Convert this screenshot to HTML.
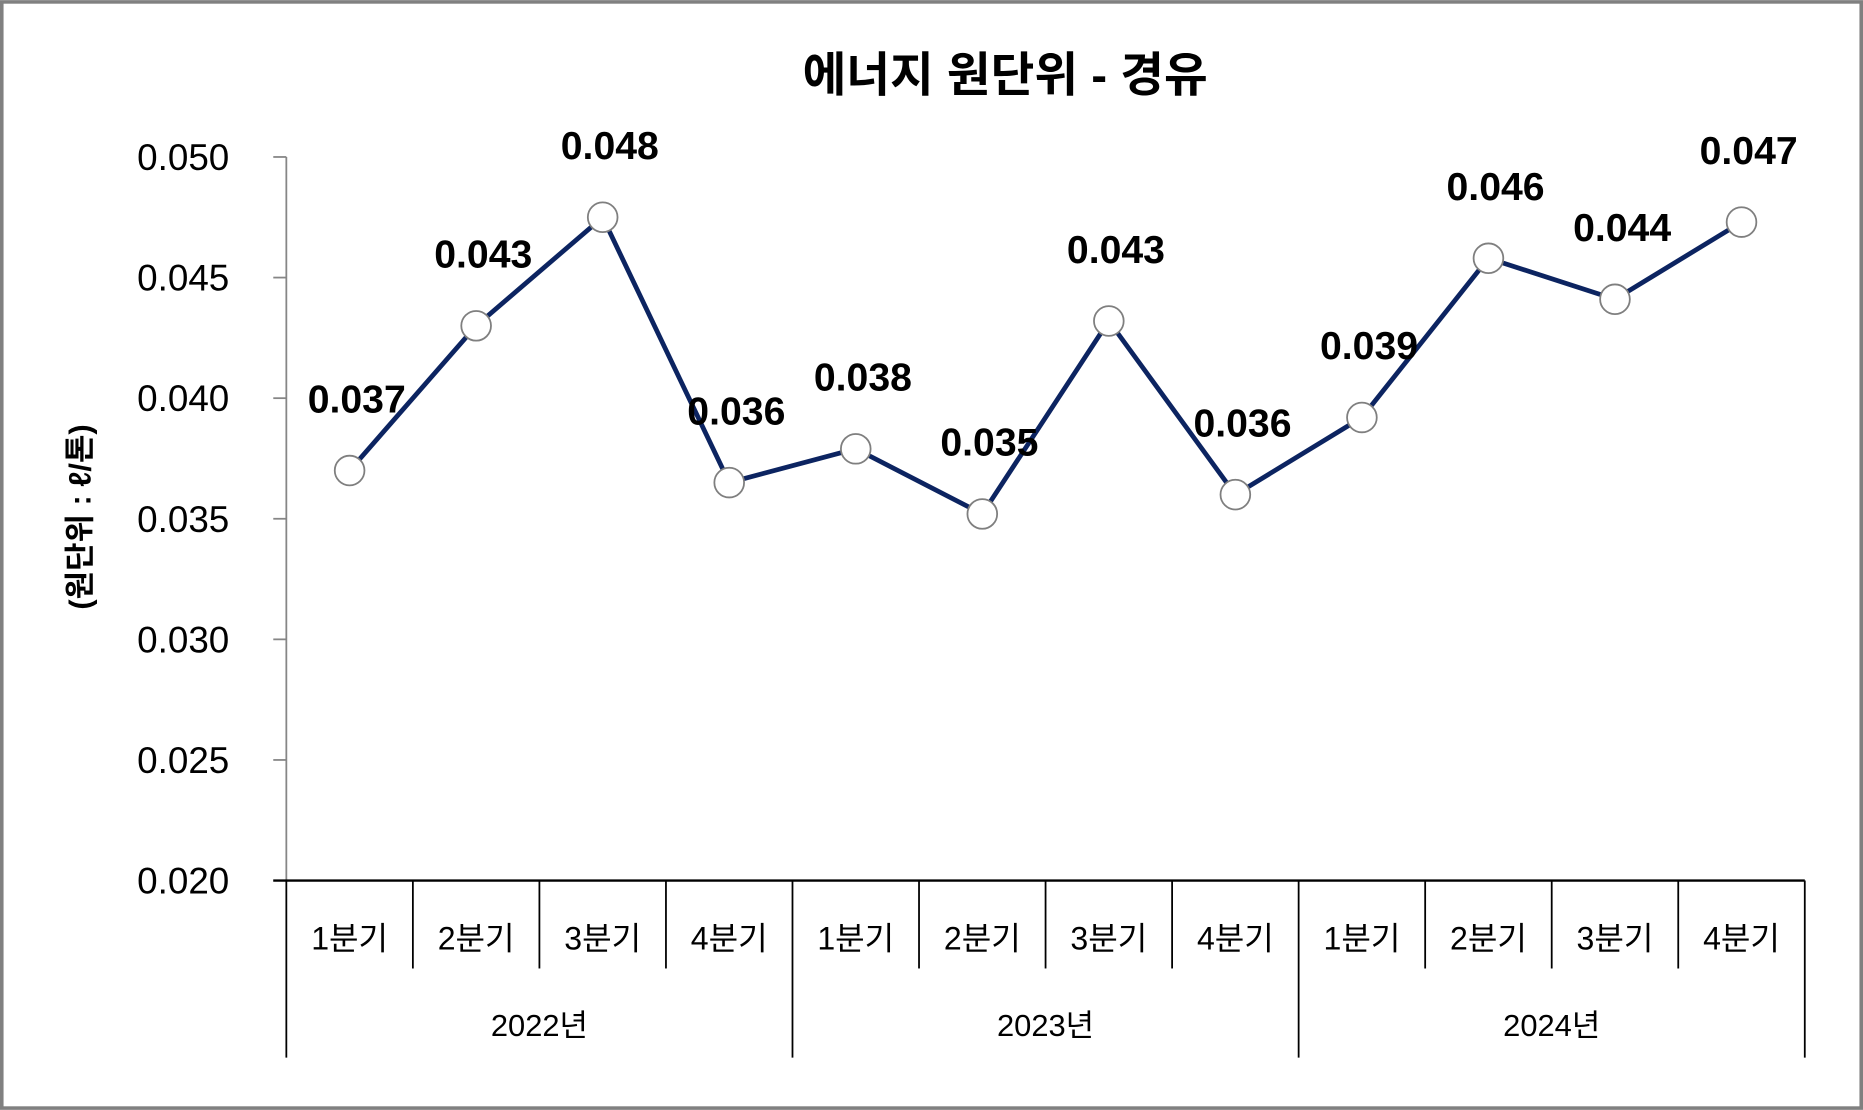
<!DOCTYPE html>
<html><head><meta charset="utf-8"><style>
html,body{margin:0;padding:0;background:#fff;width:1863px;height:1110px;overflow:hidden}
svg{display:block}
text{font-family:"Liberation Sans","Noto Sans CJK KR","NanumGothic",sans-serif;fill:#000}
</style></head><body>
<svg id="chart" width="1863" height="1110" viewBox="0 0 1568 934" xmlns="http://www.w3.org/2000/svg">
<rect x="1.5" y="1.5" width="1565" height="931" fill="#fff" stroke="#808080" stroke-width="3"/>
<text x="846" y="77" text-anchor="middle" font-size="40" font-weight="bold">에너지 원단위 - 경유</text>
<text transform="translate(76,435) rotate(-90)" text-anchor="middle" font-size="26" font-weight="bold">(원단위 : ℓ/톤)</text>
<g id="axes"></g>
<g id="series"></g>
</svg>
<script>
const categories=["1분기","2분기","3분기","4분기","1분기","2분기","3분기","4분기","1분기","2분기","3분기","4분기"];
const years=["2022년","2023년","2024년"];
const values=[0.0370,0.0430,0.0475,0.0365,0.0379,0.0352,0.0432,0.0360,0.0392,0.0458,0.0441,0.0473];
const valueLabels=["0.037","0.043","0.048","0.036","0.038","0.035","0.043","0.036","0.039","0.046","0.044","0.047"];
const yTicks=[0.020,0.025,0.030,0.035,0.040,0.045,0.050];
const yTickLabels=["0.020","0.025","0.030","0.035","0.040","0.045","0.050"];

const NS="http://www.w3.org/2000/svg";
const X0=241,X1=1519,Y0=741,Y1=132,YMIN=0.020,YMAX=0.050;
const bw=(X1-X0)/categories.length;
function xs(i){return X0+bw*(i+0.5);}
function ys(v){return Y0-(v-YMIN)/(YMAX-YMIN)*(Y0-Y1);}
function mk(tag,attrs,parent,txt){const e=document.createElementNS(NS,tag);for(const k in attrs)e.setAttribute(k,attrs[k]);if(txt!==undefined)e.textContent=txt;parent.appendChild(e);return e;}
const axes=document.getElementById('axes'),ser=document.getElementById('series');

let e=mk('line',{x1:X0,y1:Y1,x2:X0,y2:Y0,stroke:'#868686','stroke-width':1.5},axes);


yTicks.forEach((t,i)=>{
  const y=ys(t);
  let l=mk('line',{x1:230,y1:y,x2:X0,y2:y,stroke:'#868686','stroke-width':1.5},axes);
  
  
  let tx=mk('text',{x:193,y:y+11,'text-anchor':'end','font-size':31},axes,yTickLabels[i]);
  
  
});
e=mk('line',{x1:230,y1:Y0,x2:X1,y2:Y0,stroke:'#000','stroke-width':2},axes);


for(let i=0;i<=categories.length;i++){
  const x=X0+bw*i, major=(i%4===0);
  let l=mk('line',{x1:x,y1:Y0,x2:x,y2:major?890:815,stroke:'#000','stroke-width':1.5},axes);
  
  
}
categories.forEach((c,i)=>{
  let t=mk('text',{x:xs(i),y:799,'text-anchor':'middle','font-size':27},axes,c);
  
  
});
years.forEach((yv,i)=>{
  let t=mk('text',{x:X0+bw*(4*i+2),y:872,'text-anchor':'middle','font-size':26},axes,yv);
  
  
});
let pts=values.map((v,i)=>xs(i)+','+ys(v)).join(' ');
let pl=mk('polyline',{points:pts,fill:'none',stroke:'#0c2461','stroke-width':4,'stroke-linejoin':'round'},ser);


values.forEach((v,i)=>{
  let c=mk('circle',{cx:xs(i),cy:ys(v),r:12.5,fill:'#fff',stroke:'#7f7f7f','stroke-width':1.5},ser);
  
  
});
values.forEach((v,i)=>{
  let t=mk('text',{x:xs(i)+6,y:ys(v)-49,'text-anchor':'middle','font-size':33,'font-weight':'bold'},ser,valueLabels[i]);
  
  
});
</script>
</body></html>
